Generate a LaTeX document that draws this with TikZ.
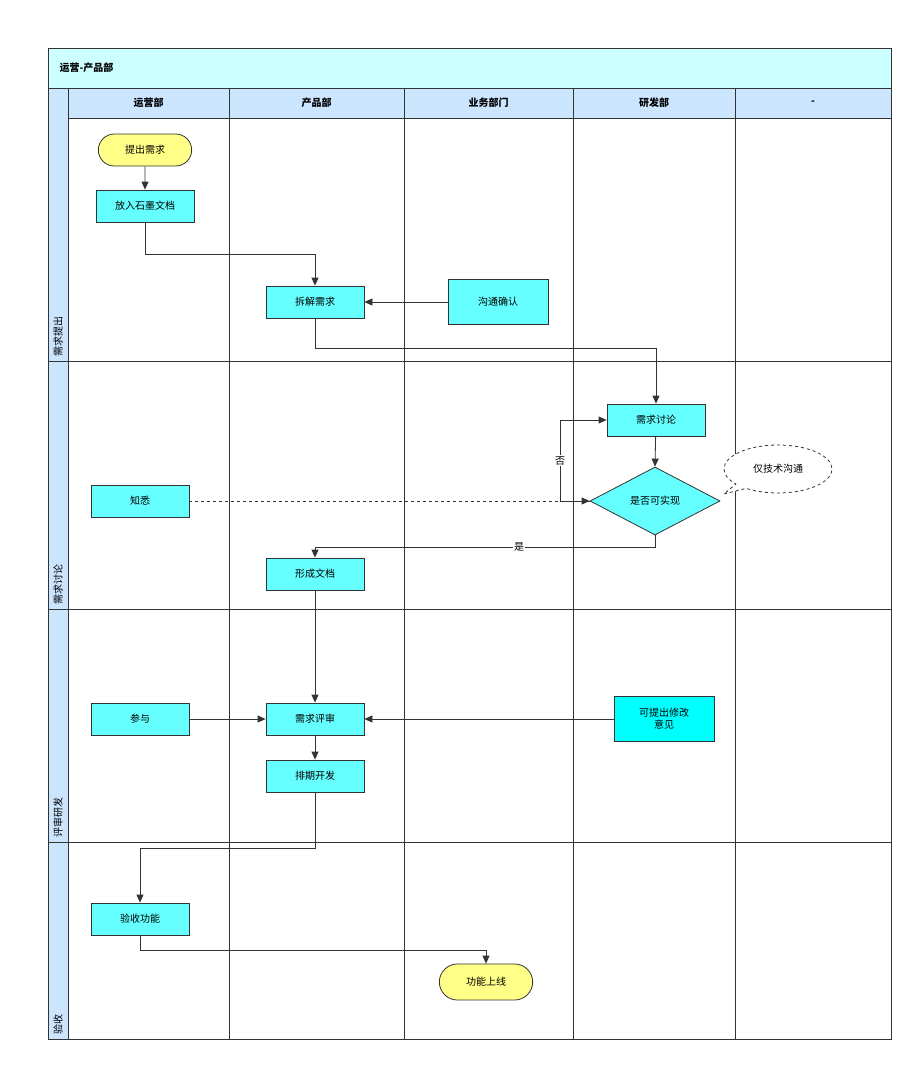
\documentclass[tikz,border=0pt]{standalone}
\usepackage{fontspec}
\newfontfamily\cjk{Noto Sans CJK SC}
\usetikzlibrary{arrows.meta,shapes.geometric,shapes.callouts,shapes.multipart,shapes.misc}
\definecolor{cy}{HTML}{66FFFF}
\definecolor{cy2}{HTML}{00FFFF}
\definecolor{yl}{HTML}{FFFF88}
\definecolor{hd}{HTML}{CCE5FF}
\definecolor{tt}{HTML}{CCFFFF}
\definecolor{ln}{HTML}{333333}
\begin{document}
\begin{tikzpicture}[x=1pt,y=-1pt,font=\cjk\fontsize{10}{12}\selectfont,
 box/.style={draw=ln,thick,fill=cy,minimum width=98pt,minimum height=32pt,inner sep=1pt},
 term/.style={draw=ln,thick,fill=yl,rounded rectangle,minimum width=100pt,minimum height=32pt},
 proc/.style={draw=ln,thick,fill=cy,minimum width=100pt,minimum height=45pt,align=center,inner sep=1pt,
   append after command={\pgfextra{\draw[ln,thick] ([xshift=16pt]\tikzlastnode.north west)--([xshift=16pt]\tikzlastnode.south west) ([xshift=-16pt]\tikzlastnode.north east)--([xshift=-16pt]\tikzlastnode.south east);}}},
 ar/.style={draw=ln,thick,-{Triangle[length=8pt,width=7pt]}},
 hdr/.style={font=\cjk\bfseries\fontsize{10}{12}\selectfont}]
\useasboundingbox (0,0) rectangle (923,1071);
% frame
\fill[tt] (48,48) rectangle (891,88);
\fill[hd] (68,88) rectangle (891,118);
\fill[hd] (48,88) rectangle (68,1039);
\draw[ln,thick] (48,48) rectangle (891,1039);
\draw[ln,thick] (48,88)--(891,88) (68,118)--(891,118) (68,88)--(68,1039);
\foreach \x in {229,404,573,735} \draw[ln,thick] (\x,88)--(\x,1039);
\foreach \y in {361,609,842} \draw[ln,thick] (48,\y)--(891,\y);
\node[hdr,anchor=west] (title) at (56,68) {运营-产品部};
\node[hdr] (h1) at (148.5,103) {运营部};
\node[hdr] (h2) at (316.5,103) {产品部};
\node[hdr] (h3) at (488.5,103) {业务部门};
\node[hdr] (h4) at (654,103) {研发部};
\node[hdr] (h5) at (813,103) {-};
\node[rotate=90,anchor=south west,inner sep=1pt] (r1) at (64,358) {需求提出};
\node[rotate=90,anchor=south west,inner sep=1pt] (r2) at (64,606) {需求讨论};
\node[rotate=90,anchor=south west,inner sep=1pt] (r3) at (64,839) {评审研发};
\node[rotate=90,anchor=south west,inner sep=1pt] (r4) at (64,1036) {验收};
% nodes
\node[term] (a) at (145,150) {提出需求};
\node[box] (b) at (145,206) {放入石墨文档};
\node[box] (c) at (315,302) {拆解需求};
\node[proc] (d) at (498,302) {沟通确认};
\node[box] (e) at (656,420) {需求讨论};
\node[diamond,draw=ln,thick,fill=cy,minimum width=130pt,minimum height=68pt,aspect=1.9,inner sep=0pt] (f) at (655,501) {是否可实现};
\node[ellipse callout,draw=ln,thick,dashed,fill=white,minimum width=108pt,minimum height=48pt,callout absolute pointer={(724,494)}] (g) at (778,469) {仅技术沟通};
\node[box] (h) at (140,501) {知悉};
\node[box] (i) at (315,574) {形成文档};
\node[box] (j) at (140,719) {参与};
\node[box] (k) at (315,719) {需求评审};
\node[proc,fill=cy2,text width=66pt] (l) at (664,719) {可提出修改\\意见};
\node[box] (m) at (315,776) {排期开发};
\node[box] (n) at (140,919) {验收功能};
\node[term,minimum height=36pt] (o) at (486,982) {功能上线};
% edges
\draw[ar] (a)--(b);
\draw[ar] (b.south)|-(315,254)--(c.north);
\draw[ar] (d.west)--(c.east);
\draw[ar] (c.south)|-(656,348)--(e.north);
\draw[ar] (e)--(f.north);
\draw[ar,dashed] (h.east)--(f.west);
\draw[ar] (f.west)--(560,501)|-(e.west) node[pos=0.25,fill=white,inner sep=1pt] (no) {否};
\draw[ar] (f.south)|-(315,547) node[pos=0.7,fill=white,inner sep=1pt] (yes) {是} --(i.north);
\draw[ar] (i)--(k);
\draw[ar] (j)--(k);
\draw[ar] (l.west)--(k.east);
\draw[ar] (k)--(m);
\draw[ar] (m.south)|-(140,848)--(n.north);
\draw[ar] (n.south)|-(486,950)--(o.north);
\end{tikzpicture}
\end{document}
